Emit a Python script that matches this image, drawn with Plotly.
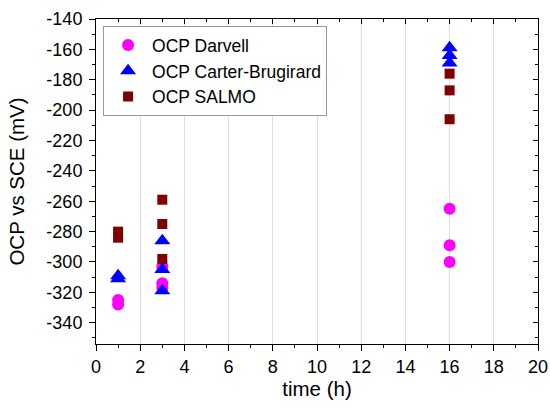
import plotly.graph_objects as go

# Data
darvell_t = [1, 1, 3, 3, 3, 16, 16, 16]
darvell_ocp = [-325, -328, -303, -314, -317, -265, -289, -300]

carter_t = [1, 1, 3, 3, 3, 16, 16, 16]
carter_ocp = [-309, -311, -286, -305, -319, -159, -164, -169]

salmo_t = [1, 1, 3, 3, 3, 16, 16, 16]
salmo_ocp = [-280, -284, -259, -275, -298, -176, -187, -206]

x_range = [0, 20]
y_range = [-354, -140]
x_ticks = [0, 2, 4, 6, 8, 10, 12, 14, 16, 18, 20]
y_ticks = [-140, -160, -180, -200, -220, -240, -260, -280, -300, -320, -340]
x_ticktext = [str(v) for v in x_ticks]
y_ticktext = [str(v) for v in y_ticks]  # plain hyphen minus, as in the reference

FONT = "Liberation Sans, Arial, sans-serif"

fig = go.Figure()
fig.add_trace(go.Scatter(x=darvell_t, y=darvell_ocp, mode="markers", name="OCP Darvell",
                         marker=dict(symbol="circle", size=12, color="#FF00FF")))
fig.add_trace(go.Scatter(x=carter_t, y=carter_ocp, mode="markers", name="OCP Carter-Brugirard",
                         marker=dict(symbol="triangle-up", size=14, color="#0000FF")))
fig.add_trace(go.Scatter(x=salmo_t, y=salmo_ocp, mode="markers", name="OCP SALMO",
                         marker=dict(symbol="square", size=10, color="#7F0000")))
# empty helper trace so that the mirrored top/right frame axes are drawn
fig.add_trace(go.Scatter(x=[], y=[], xaxis="x2", yaxis="y2", showlegend=False,
                         hoverinfo="skip"))

fig.update_layout(
    width=550, height=407,
    margin=dict(l=96, r=12, t=19, b=63),
    paper_bgcolor="white", plot_bgcolor="white",
    font=dict(family=FONT, size=18, color="black"),
    showlegend=True,
    legend=dict(x=0.016, y=0.978, xanchor="left", yanchor="top",
                bordercolor="#999999", borderwidth=1, bgcolor="white",
                font=dict(size=17.5), tracegroupgap=0, itemsizing="trace", itemwidth=38),
    xaxis=dict(range=x_range, tickmode="array", tickvals=x_ticks, ticktext=x_ticktext,
               showline=True, linecolor="black", linewidth=1, automargin=False,
               ticks="outside", ticklen=6, tickcolor="black", showgrid=True, gridcolor="#DDDDDD",
               gridwidth=1, zeroline=False,
               minor=dict(dtick=1, tick0=0, ticks="outside", ticklen=3, tickcolor="black", showgrid=False),
               title=dict(text="time (h)", font=dict(size=20.5), standoff=5),
               tickfont=dict(size=18)),
    yaxis=dict(range=y_range, tickmode="array", tickvals=y_ticks, ticktext=y_ticktext,
               showline=True, linecolor="black", linewidth=1, automargin=False,
               ticks="outside", ticklen=6, tickcolor="black", showgrid=False, zeroline=False,
               ticklabelstandoff=3,
               minor=dict(dtick=10, tick0=-140, ticks="outside", ticklen=3, tickcolor="black"),
               title=dict(text="OCP vs SCE (mV)", font=dict(size=20.5), standoff=16),
               tickfont=dict(size=18)),
    xaxis2=dict(range=x_range, tickmode="array", tickvals=x_ticks, overlaying="x", side="top",
                anchor="y", automargin=False,
                showline=True, linecolor="black", linewidth=1, ticks="inside", ticklen=5,
                tickcolor="black", showticklabels=False, showgrid=False, zeroline=False,
                minor=dict(dtick=1, tick0=0, ticks="inside", ticklen=3, tickcolor="black")),
    yaxis2=dict(range=y_range, tickmode="array", tickvals=y_ticks, overlaying="y", side="right",
                anchor="x", automargin=False,
                showline=True, linecolor="black", linewidth=1, ticks="inside", ticklen=5,
                tickcolor="black", showticklabels=False, showgrid=False, zeroline=False,
                minor=dict(dtick=10, tick0=-140, ticks="inside", ticklen=3, tickcolor="black")),
)

fig.write_html("out.html", config={"displayModeBar": False},
               post_script="document.body.style.margin='0';document.body.style.padding='0';")
